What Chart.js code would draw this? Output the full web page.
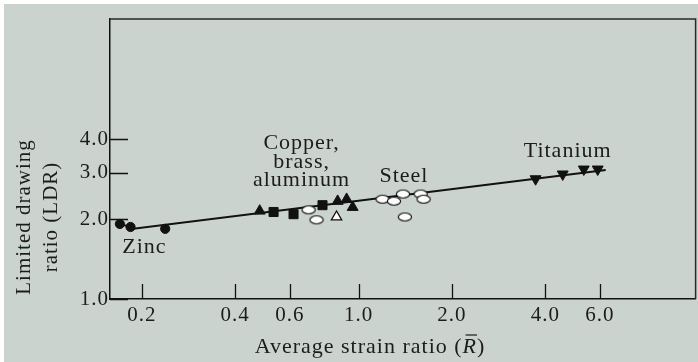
<!DOCTYPE html>
<html>
<head>
<meta charset="utf-8">
<script src="https://cdn.jsdelivr.net/npm/chart.js@4.4.1/dist/chart.umd.min.js"></script>
<style>
  html, body { margin: 0; padding: 0; background: #fff; overflow: hidden; }
  #wrap { position: absolute; left: 4px; top: 4px; width: 699px; height: 358px; background: #cbd3cf; }
</style>
</head>
<body>
<div id="wrap"><canvas id="ldr" width="699" height="358"></canvas></div>
<script>
// tick values on both log axes
const xTicks = [0.2, 0.4, 0.6, 1.0, 2.0, 4.0, 6.0];
const yTicks = [1.0, 2.0, 3.0, 4.0];

// average strain ratio (R) vs limited drawing ratio, per material group
const zincR = [0.170, 0.184, 0.238];
const zincLDR = [1.92, 1.87, 1.84];
const squareR = [0.532, 0.617, 0.765];
const squareLDR = [2.13, 2.09, 2.26];
const triangleR = [0.480, 0.856, 0.915, 0.957];
const triangleLDR = [2.15, 2.34, 2.38, 2.22];
const openTriR = [0.849];
const openTriLDR = [2.04];
const steelR = [0.690, 0.732, 1.195, 1.30, 1.39, 1.585, 1.62, 1.41];
const steelLDR = [2.17, 1.99, 2.38, 2.34, 2.49, 2.49, 2.38, 2.04];
const titaniumR = [3.72, 4.55, 5.32, 5.90];
const titaniumLDR = [2.84, 2.96, 3.09, 3.09];
const trendR = [0.170, 0.188, 6.26];
const trendLDR = [1.93, 1.84, 3.07];

// group labels: text lines + anchor (baseline of last line) in data units
const groupLabels = [
	{ lines: ['Zinc'], r: 0.204, ldr: 1.49 },
	{ lines: ['Copper,', 'brass,', 'aluminum'], r: 0.655, ldr: 2.67 },
	{ lines: ['Steel'], r: 1.40, ldr: 2.76 },
	{ lines: ['Titanium'], r: 4.72, ldr: 3.43 },
];

const serif = "'Liberation Serif', 'Times New Roman', serif";
const ink = '#1c1c1c';

function pts(xs, ys) {
	return xs.map((x, i) => ({ x: x, y: ys[i] }));
}

// open ellipse marker used for the steel points
function ellipseMarker() {
	const c = document.createElement('canvas');
	c.width = 16;
	c.height = 11;
	const g = c.getContext('2d');
	g.beginPath();
	g.ellipse(8, 5.5, 6.6, 4, 0, 0, Math.PI * 2);
	g.fillStyle = '#fff';
	g.fill();
	g.lineWidth = 1.2;
	g.strokeStyle = '#111';
	g.stroke();
	return c;
}

const decorations = {
	id: 'decorations',
	beforeDraw(chart) {
		// the book face is wider than Liberation Serif
		chart.ctx.letterSpacing = '1px';
	},
	beforeDatasetsDraw(chart) {
		const { ctx, chartArea, scales } = chart;
		ctx.save();
		// frame top and right
		ctx.strokeStyle = '#2a2a2a';
		ctx.lineWidth = 1.5;
		ctx.beginPath();
		ctx.moveTo(chartArea.left, chartArea.top);
		ctx.lineTo(chartArea.right, chartArea.top);
		ctx.lineTo(chartArea.right, chartArea.bottom);
		ctx.stroke();
		// inward tick marks
		ctx.strokeStyle = '#111';
		ctx.lineWidth = 1.3;
		ctx.beginPath();
		xTicks.forEach((v) => {
			const px = Math.round(scales.x.getPixelForValue(v)) + 0.5;
			ctx.moveTo(px, chartArea.bottom);
			ctx.lineTo(px, chartArea.bottom - 15);
		});
		yTicks.forEach((v) => {
			const py = Math.round(scales.y.getPixelForValue(v)) + 0.5;
			ctx.moveTo(chartArea.left, py);
			ctx.lineTo(chartArea.left + 18, py);
		});
		ctx.stroke();
		ctx.restore();
	},
	afterDraw(chart) {
		const { ctx, scales } = chart;
		ctx.save();
		ctx.letterSpacing = '1px';
		ctx.fillStyle = ink;
		ctx.font = `22px ${serif}`;
		ctx.textAlign = 'center';
		ctx.textBaseline = 'alphabetic';
		groupLabels.forEach((lbl) => {
			const px = scales.x.getPixelForValue(lbl.r);
			const py = scales.y.getPixelForValue(lbl.ldr);
			const n = lbl.lines.length;
			lbl.lines.forEach((t, i) => {
				ctx.fillText(t, px, py - (n - 1 - i) * 18.5);
			});
		});

		// x title, with an italic barred R
		const head = 'Average strain ratio (';
		const sym = 'R';
		const tail = ')';
		const upright = `22px ${serif}`;
		const italic = `italic 22px ${serif}`;
		ctx.textAlign = 'left';
		ctx.font = upright;
		const wHead = ctx.measureText(head).width;
		const wTail = ctx.measureText(tail).width;
		ctx.font = italic;
		const wSym = ctx.measureText(sym).width;
		let x = 366 - (wHead + wSym + wTail) / 2;
		const base = 349;
		ctx.font = upright;
		ctx.fillText(head, x, base);
		x += wHead;
		ctx.font = italic;
		ctx.fillText(sym, x, base);
		ctx.strokeStyle = ink;
		ctx.lineWidth = 1.2;
		ctx.beginPath();
		ctx.moveTo(x + 3, base - 18);
		ctx.lineTo(x + wSym, base - 18);
		ctx.stroke();
		x += wSym;
		ctx.font = upright;
		ctx.fillText(tail, x, base);

		// y title, two lines
		ctx.textAlign = 'center';
		ctx.save();
		ctx.translate(0, 213);
		ctx.rotate(-Math.PI / 2);
		ctx.textBaseline = 'middle';
		ctx.font = `21px ${serif}`;
		ctx.fillText('Limited drawing', 0, 20);
		ctx.fillText('ratio (LDR)', 0, 47);
		ctx.restore();
		ctx.restore();
	},
};

const chart = new Chart(document.getElementById('ldr'), {
	type: 'scatter',
	data: {
		datasets: [
			{
				data: pts(zincR, zincLDR),
				pointStyle: 'circle',
				pointRadius: 4.6,
				backgroundColor: '#111',
				borderColor: '#111',
			},
			{
				data: pts(squareR, squareLDR),
				pointStyle: 'rect',
				pointRadius: 6.4,
				backgroundColor: '#111',
				borderColor: '#111',
			},
			{
				data: pts(triangleR, triangleLDR),
				pointStyle: 'triangle',
				pointRadius: 6.3,
				backgroundColor: '#111',
				borderColor: '#111',
			},
			{
				data: pts(openTriR, openTriLDR),
				pointStyle: 'triangle',
				pointRadius: 6,
				backgroundColor: '#fff',
				borderColor: '#111',
				borderWidth: 1.3,
			},
			{
				data: pts(steelR, steelLDR),
				pointStyle: ellipseMarker(),
			},
			{
				data: pts(titaniumR, titaniumLDR),
				pointStyle: 'triangle',
				rotation: 180,
				pointRadius: 6.3,
				backgroundColor: '#111',
				borderColor: '#111',
			},
			{
				data: pts(trendR, trendLDR),
				showLine: true,
				pointRadius: 0,
				borderColor: '#111',
				borderWidth: 2,
			},
		],
	},
	options: {
		responsive: false,
		animation: false,
		events: [],
		layout: {
			padding: { top: 15, right: 3, left: 0, bottom: 0 },
		},
		scales: {
			x: {
				type: 'logarithmic',
				min: 0.158,
				max: 12.2,
				afterBuildTicks: (scale) => {
					scale.ticks = xTicks.map((v) => ({ value: v }));
				},
				afterFit: (scale) => {
					scale.height = 63;
				},
				grid: {
					drawOnChartArea: false,
					drawTicks: false,
				},
				border: {
					color: '#111',
					width: 1.5,
				},
				ticks: {
					autoSkip: false,
					maxRotation: 0,
					padding: 4,
					color: ink,
					font: { family: serif, size: 21 },
					callback: (v) => Number(v).toFixed(1),
				},
			},
			y: {
				type: 'logarithmic',
				min: 1,
				max: 11.4,
				afterBuildTicks: (scale) => {
					scale.ticks = yTicks.map((v) => ({ value: v }));
				},
				afterFit: (scale) => {
					scale.width = 106;
				},
				grid: {
					drawOnChartArea: false,
					drawTicks: false,
				},
				border: {
					color: '#111',
					width: 1.5,
				},
				ticks: {
					padding: 1,
					color: ink,
					font: { family: serif, size: 21 },
					callback: (v) => Number(v).toFixed(1),
				},
			},
		},
		plugins: {
			legend: { display: false },
			tooltip: { enabled: false },
		},
	},
	plugins: [decorations],
});
</script>
</body>
</html>
